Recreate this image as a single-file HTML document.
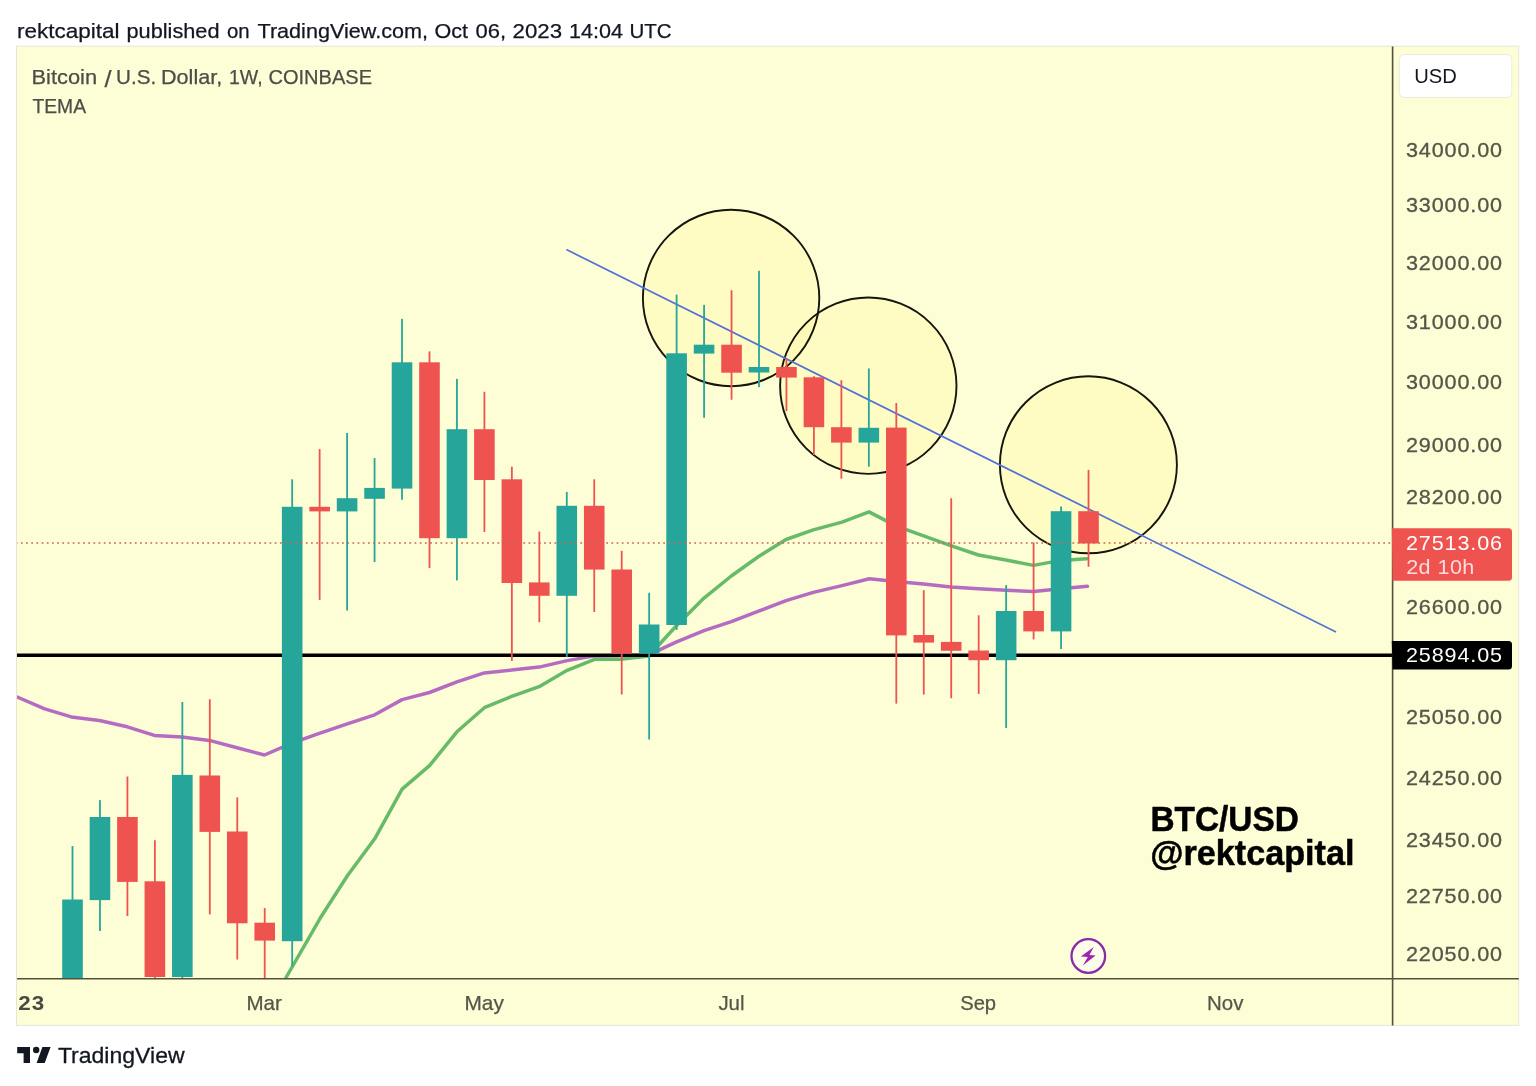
<!DOCTYPE html>
<html lang="en"><head><meta charset="utf-8"><title>BTC/USD chart</title>
<style>
html,body{margin:0;padding:0;background:#fff;}
body{width:1536px;height:1086px;overflow:hidden;position:relative;font-family:"Liberation Sans",sans-serif;}
svg{position:absolute;left:0;top:0;display:block;}
svg text{font-family:"Liberation Sans",sans-serif;white-space:pre;}
</style></head><body>
<svg width="1536" height="1086" viewBox="0 0 1536 1086">
<defs><clipPath id="pane"><rect x="17" y="46.5" width="1375.6" height="932"/></clipPath></defs>

<g id="title"><text x="17.00" y="38.1" font-size="20.3" fill="#131722" stroke="#131722" stroke-width="0.25" textLength="102.58" lengthAdjust="spacingAndGlyphs">rektcapital</text><text x="126.50" y="38.1" font-size="20.3" fill="#131722" stroke="#131722" stroke-width="0.25" textLength="93.06" lengthAdjust="spacingAndGlyphs">published</text><text x="227.00" y="38.1" font-size="20.3" fill="#131722" stroke="#131722" stroke-width="0.25" textLength="22.64" lengthAdjust="spacingAndGlyphs">on</text><text x="257.50" y="38.1" font-size="20.3" fill="#131722" stroke="#131722" stroke-width="0.25" textLength="170.52" lengthAdjust="spacingAndGlyphs">TradingView.com,</text><text x="434.50" y="38.1" font-size="20.3" fill="#131722" stroke="#131722" stroke-width="0.25" textLength="33.54" lengthAdjust="spacingAndGlyphs">Oct</text><text x="475.50" y="38.1" font-size="20.3" fill="#131722" stroke="#131722" stroke-width="0.25" textLength="30.63" lengthAdjust="spacingAndGlyphs">06,</text><text x="512.50" y="38.1" font-size="20.3" fill="#131722" stroke="#131722" stroke-width="0.25" textLength="49.54" lengthAdjust="spacingAndGlyphs">2023</text><text x="569.00" y="38.1" font-size="20.3" fill="#131722" stroke="#131722" stroke-width="0.25" textLength="54.06" lengthAdjust="spacingAndGlyphs">14:04</text><text x="629.50" y="38.1" font-size="20.3" fill="#131722" stroke="#131722" stroke-width="0.25" textLength="42.12" lengthAdjust="spacingAndGlyphs">UTC</text></g>
<rect x="16.5" y="46.2" width="1502.2" height="979.2" fill="#fefed6" stroke="#e6e6d8" stroke-width="1"/>
<g clip-path="url(#pane)">
<circle cx="731.1" cy="298" r="88.2" fill="#fff59d" fill-opacity="0.34"/>
<circle cx="868.3" cy="385.7" r="88.2" fill="#fff59d" fill-opacity="0.34"/>
<circle cx="1088.4" cy="464.8" r="88.5" fill="#fff59d" fill-opacity="0.34"/>
<circle cx="731.1" cy="298" r="88.2" fill="none" stroke="#15150c" stroke-width="1.9"/>
<circle cx="868.3" cy="385.7" r="88.2" fill="none" stroke="#15150c" stroke-width="1.9"/>
<circle cx="1088.4" cy="464.8" r="88.5" fill="none" stroke="#15150c" stroke-width="1.9"/>
<polyline points="285.8,978 320.4,917.8 347.4,875.8 374.7,838.8 402.1,789.2 429.5,765.7 456.9,731.8 484.3,707.7 511.7,696.4 539.1,686.7 567.2,670.3 594.6,659.3 620.6,659.3 648.75,656 676.6,625.5 704,598.1 731.3,576 758.6,556.5 786,539.5 813.3,529.9 842,522.1 869,511.9 895.9,525.9 923.6,535.9 950.8,545.6 978.5,555 1005.8,560 1033.4,565.4 1060.7,560.4 1086.8,558.7" fill="none" stroke="#66bb6a" stroke-width="3.5" stroke-linejoin="round" stroke-linecap="round"/>
<polyline points="17.2,697 44.7,708.9 71.3,716.9 99.4,720.5 127.3,726.8 154.4,735.4 181.9,737.1 209.4,740.4 237,747.7 264.5,755 291.9,743.1 319.3,733.4 347.3,723.8 374.7,714.8 402.1,699.6 429.5,692.5 456.9,681.9 484.3,672.9 511.7,670 539.1,667.1 567.2,660.6 594.6,655.9 620.6,655.4 648.75,654.9 676.6,641.9 704,630.7 731.3,621.6 758.6,611.1 786,600.7 813.3,592.4 842,585.6 869.3,578.7 895.9,581.5 923.6,584.1 950.8,586.9 978.5,588.7 1005.8,590.2 1033.4,591.6 1060.7,588.7 1087.4,586.3" fill="none" stroke="#b56bc2" stroke-width="3.5" stroke-linejoin="round" stroke-linecap="round"/>
<line x1="17" y1="655.3" x2="1392.6" y2="655.3" stroke="#000" stroke-width="3.6"/>
<line x1="566.4" y1="249.6" x2="1336" y2="631.9" stroke="#5172d8" stroke-width="1.7"/>
<rect x="71.60" y="846.1" width="1.8" height="153.9" fill="#26a69a"/>
<rect x="62.20" y="899.5" width="20.6" height="100.5" fill="#26a69a"/>
<rect x="99.06" y="800.1" width="1.8" height="130.9" fill="#26a69a"/>
<rect x="89.66" y="817" width="20.6" height="83.1" fill="#26a69a"/>
<rect x="126.52" y="776.5" width="1.8" height="139.5" fill="#ef5350"/>
<rect x="117.12" y="817" width="20.6" height="64.9" fill="#ef5350"/>
<rect x="153.98" y="840.2" width="1.8" height="159.8" fill="#ef5350"/>
<rect x="144.58" y="881.3" width="20.6" height="95.7" fill="#ef5350"/>
<rect x="181.44" y="702" width="1.8" height="298.0" fill="#26a69a"/>
<rect x="172.04" y="774.9" width="20.6" height="202.1" fill="#26a69a"/>
<rect x="208.90" y="699.3" width="1.8" height="215.1" fill="#ef5350"/>
<rect x="199.50" y="775.5" width="20.6" height="56.4" fill="#ef5350"/>
<rect x="236.36" y="797.4" width="1.8" height="162.1" fill="#ef5350"/>
<rect x="226.96" y="831.5" width="20.6" height="91.8" fill="#ef5350"/>
<rect x="263.82" y="908.1" width="1.8" height="91.9" fill="#ef5350"/>
<rect x="254.42" y="922.7" width="20.6" height="17.9" fill="#ef5350"/>
<rect x="291.28" y="479.3" width="1.8" height="487.1" fill="#26a69a"/>
<rect x="281.88" y="506.8" width="20.6" height="434.4" fill="#26a69a"/>
<rect x="318.74" y="449.1" width="1.8" height="150.8" fill="#ef5350"/>
<rect x="309.34" y="506.8" width="20.6" height="4.6" fill="#ef5350"/>
<rect x="346.20" y="432.9" width="1.8" height="177.6" fill="#26a69a"/>
<rect x="336.80" y="498.2" width="20.6" height="13.2" fill="#26a69a"/>
<rect x="373.66" y="458.1" width="1.8" height="104.0" fill="#26a69a"/>
<rect x="364.26" y="487.9" width="20.6" height="10.9" fill="#26a69a"/>
<rect x="401.12" y="318.9" width="1.8" height="180.9" fill="#26a69a"/>
<rect x="391.72" y="362.3" width="20.6" height="126.3" fill="#26a69a"/>
<rect x="428.58" y="351.4" width="1.8" height="216.7" fill="#ef5350"/>
<rect x="419.18" y="362.3" width="20.6" height="175.9" fill="#ef5350"/>
<rect x="456.04" y="378.9" width="1.8" height="201.5" fill="#26a69a"/>
<rect x="446.64" y="429.2" width="20.6" height="109.0" fill="#26a69a"/>
<rect x="483.50" y="391.8" width="1.8" height="140.2" fill="#ef5350"/>
<rect x="474.10" y="429.2" width="20.6" height="50.8" fill="#ef5350"/>
<rect x="510.96" y="466.7" width="1.8" height="194.2" fill="#ef5350"/>
<rect x="501.56" y="479.3" width="20.6" height="103.7" fill="#ef5350"/>
<rect x="538.42" y="531.6" width="1.8" height="90.6" fill="#ef5350"/>
<rect x="529.02" y="582.4" width="20.6" height="13.4" fill="#ef5350"/>
<rect x="565.88" y="491.9" width="1.8" height="165.3" fill="#26a69a"/>
<rect x="556.48" y="505.8" width="20.6" height="90.0" fill="#26a69a"/>
<rect x="593.34" y="479.3" width="1.8" height="132.7" fill="#ef5350"/>
<rect x="583.94" y="505.8" width="20.6" height="63.8" fill="#ef5350"/>
<rect x="620.80" y="550.8" width="1.8" height="143.7" fill="#ef5350"/>
<rect x="611.40" y="569.5" width="20.6" height="84.1" fill="#ef5350"/>
<rect x="648.26" y="592.8" width="1.8" height="146.7" fill="#26a69a"/>
<rect x="638.86" y="624.5" width="20.6" height="29.1" fill="#26a69a"/>
<rect x="675.72" y="294.6" width="1.8" height="335.3" fill="#26a69a"/>
<rect x="666.32" y="353.3" width="20.6" height="271.7" fill="#26a69a"/>
<rect x="703.18" y="304.9" width="1.8" height="112.9" fill="#26a69a"/>
<rect x="693.78" y="344.7" width="20.6" height="8.9" fill="#26a69a"/>
<rect x="730.64" y="290.3" width="1.8" height="109.4" fill="#ef5350"/>
<rect x="721.24" y="344.7" width="20.6" height="28.0" fill="#ef5350"/>
<rect x="758.10" y="270.8" width="1.8" height="116.3" fill="#26a69a"/>
<rect x="748.70" y="367" width="20.6" height="5.5" fill="#26a69a"/>
<rect x="785.56" y="359" width="1.8" height="52.1" fill="#ef5350"/>
<rect x="776.16" y="367" width="20.6" height="10.6" fill="#ef5350"/>
<rect x="813.02" y="376.2" width="1.8" height="78.8" fill="#ef5350"/>
<rect x="803.62" y="377.3" width="20.6" height="49.9" fill="#ef5350"/>
<rect x="840.48" y="380.2" width="1.8" height="98.5" fill="#ef5350"/>
<rect x="831.08" y="427.2" width="20.6" height="15.4" fill="#ef5350"/>
<rect x="867.94" y="368.5" width="1.8" height="98.2" fill="#26a69a"/>
<rect x="858.54" y="427.8" width="20.6" height="14.8" fill="#26a69a"/>
<rect x="895.40" y="403" width="1.8" height="300.6" fill="#ef5350"/>
<rect x="886.00" y="427.6" width="20.6" height="207.8" fill="#ef5350"/>
<rect x="922.86" y="590.2" width="1.8" height="104.4" fill="#ef5350"/>
<rect x="913.46" y="635" width="20.6" height="7.6" fill="#ef5350"/>
<rect x="950.32" y="498.2" width="1.8" height="200.0" fill="#ef5350"/>
<rect x="940.92" y="641.9" width="20.6" height="8.9" fill="#ef5350"/>
<rect x="977.78" y="615.3" width="1.8" height="78.6" fill="#ef5350"/>
<rect x="968.38" y="650.5" width="20.6" height="9.7" fill="#ef5350"/>
<rect x="1005.24" y="585.1" width="1.8" height="142.9" fill="#26a69a"/>
<rect x="995.84" y="611" width="20.6" height="49.2" fill="#26a69a"/>
<rect x="1032.70" y="542.4" width="1.8" height="97.0" fill="#ef5350"/>
<rect x="1023.30" y="611" width="20.6" height="20.4" fill="#ef5350"/>
<rect x="1060.16" y="506.5" width="1.8" height="142.5" fill="#26a69a"/>
<rect x="1050.76" y="511.2" width="20.6" height="120.2" fill="#26a69a"/>
<rect x="1087.62" y="469.9" width="1.8" height="96.9" fill="#ef5350"/>
<rect x="1078.22" y="511.2" width="20.6" height="32.3" fill="#ef5350"/>
<line x1="1390.2" y1="543" x2="17" y2="543" stroke="#c46a56" stroke-width="1.7" stroke-dasharray="1.8 3.38"/>
</g>
<g id="legend"><text x="31.50" y="84.3" font-size="20.9" fill="#4c4c48" stroke="#4c4c48" stroke-width="0.25" textLength="65.56" lengthAdjust="spacingAndGlyphs">Bitcoin</text><text x="116.00" y="84.3" font-size="20.9" fill="#4c4c48" stroke="#4c4c48" stroke-width="0.25" textLength="40.19" lengthAdjust="spacingAndGlyphs">U.S.</text><text x="161.00" y="84.3" font-size="20.9" fill="#4c4c48" stroke="#4c4c48" stroke-width="0.25" textLength="61.19" lengthAdjust="spacingAndGlyphs">Dollar,</text><text x="229.00" y="84.3" font-size="20.9" fill="#4c4c48" stroke="#4c4c48" stroke-width="0.25" textLength="33.69" lengthAdjust="spacingAndGlyphs">1W,</text><text x="268.50" y="84.3" font-size="20.9" fill="#4c4c48" stroke="#4c4c48" stroke-width="0.25" textLength="103.52" lengthAdjust="spacingAndGlyphs">COINBASE</text><text x="104.50" y="87.0" font-size="24.5" fill="#4c4c48" stroke="#4c4c48" stroke-width="0.25" textLength="7.05" lengthAdjust="spacingAndGlyphs">/</text><text x="32.50" y="113.3" font-size="20.6" fill="#4c4c48" stroke="#4c4c48" stroke-width="0.25" textLength="53.51" lengthAdjust="spacingAndGlyphs">TEMA</text></g>
<text x="1150.4" y="830.6" font-size="35" fill="#000" font-weight="bold" textLength="148.4" lengthAdjust="spacingAndGlyphs" stroke="#000" stroke-width="0.5">BTC/USD</text>
<text x="1150.2" y="865.1" font-size="35" fill="#000" font-weight="bold" textLength="204.2" lengthAdjust="spacingAndGlyphs" stroke="#000" stroke-width="0.5">@rektcapital</text>
<circle cx="1088.3" cy="956" r="16.8" fill="#fdfce8" stroke="#8a2aaa" stroke-width="2.3"/>
<polygon points="1093.8,946.9 1080.8,956.5 1087.8,956.9 1082.8,965.4 1095.6,955.4 1089.4,955.1" fill="#9c27b0"/>
<line x1="17" y1="978.8" x2="1518.8" y2="978.8" stroke="#52523c" stroke-width="1.6"/>
<line x1="1392.6" y1="46.5" x2="1392.6" y2="1025.5" stroke="#52523c" stroke-width="1.6"/>
<rect x="1399.3" y="54.5" width="112.5" height="43" rx="5" fill="#fff" stroke="#ecebd9" stroke-width="1"/>
<text x="1414.2" y="82.6" font-size="20.7" fill="#131722" font-weight="normal" textLength="42.6" lengthAdjust="spacingAndGlyphs">USD</text>
<text transform="translate(1406.0,157.4) scale(1.08,1)" font-size="20" fill="#55554a" font-weight="normal" textLength="88.9" lengthAdjust="spacing" stroke="#55554a" stroke-width="0.3">34000.00</text>
<text transform="translate(1406.0,212.1) scale(1.08,1)" font-size="20" fill="#55554a" font-weight="normal" textLength="88.9" lengthAdjust="spacing" stroke="#55554a" stroke-width="0.3">33000.00</text>
<text transform="translate(1406.0,269.6) scale(1.08,1)" font-size="20" fill="#55554a" font-weight="normal" textLength="88.9" lengthAdjust="spacing" stroke="#55554a" stroke-width="0.3">32000.00</text>
<text transform="translate(1406.0,328.7) scale(1.08,1)" font-size="20" fill="#55554a" font-weight="normal" textLength="88.9" lengthAdjust="spacing" stroke="#55554a" stroke-width="0.3">31000.00</text>
<text transform="translate(1406.0,389.2) scale(1.08,1)" font-size="20" fill="#55554a" font-weight="normal" textLength="88.9" lengthAdjust="spacing" stroke="#55554a" stroke-width="0.3">30000.00</text>
<text transform="translate(1406.0,452.2) scale(1.08,1)" font-size="20" fill="#55554a" font-weight="normal" textLength="88.9" lengthAdjust="spacing" stroke="#55554a" stroke-width="0.3">29000.00</text>
<text transform="translate(1406.0,504.4) scale(1.08,1)" font-size="20" fill="#55554a" font-weight="normal" textLength="88.9" lengthAdjust="spacing" stroke="#55554a" stroke-width="0.3">28200.00</text>
<text transform="translate(1406.0,613.5) scale(1.08,1)" font-size="20" fill="#55554a" font-weight="normal" textLength="88.9" lengthAdjust="spacing" stroke="#55554a" stroke-width="0.3">26600.00</text>
<text transform="translate(1406.0,724.1) scale(1.08,1)" font-size="20" fill="#55554a" font-weight="normal" textLength="88.9" lengthAdjust="spacing" stroke="#55554a" stroke-width="0.3">25050.00</text>
<text transform="translate(1406.0,785.4) scale(1.08,1)" font-size="20" fill="#55554a" font-weight="normal" textLength="88.9" lengthAdjust="spacing" stroke="#55554a" stroke-width="0.3">24250.00</text>
<text transform="translate(1406.0,846.5) scale(1.08,1)" font-size="20" fill="#55554a" font-weight="normal" textLength="88.9" lengthAdjust="spacing" stroke="#55554a" stroke-width="0.3">23450.00</text>
<text transform="translate(1406.0,903.3) scale(1.08,1)" font-size="20" fill="#55554a" font-weight="normal" textLength="88.9" lengthAdjust="spacing" stroke="#55554a" stroke-width="0.3">22750.00</text>
<text transform="translate(1406.0,961.2) scale(1.08,1)" font-size="20" fill="#55554a" font-weight="normal" textLength="88.9" lengthAdjust="spacing" stroke="#55554a" stroke-width="0.3">22050.00</text>
<path d="M1391.8 528.3H1508.5a3.5 3.5 0 0 1 3.5 3.5V577.3a3.5 3.5 0 0 1 -3.5 3.5H1392.6Z" fill="#ef5350"/>
<text transform="translate(1406.0,550.1) scale(1.08,1)" font-size="20" fill="#fff" font-weight="normal" textLength="88.9" lengthAdjust="spacing">27513.06</text>
<text transform="translate(1406.2,573.7) scale(1.08,1)" font-size="20" fill="#fff" font-weight="normal" textLength="63.1" lengthAdjust="spacing" fill-opacity="0.8">2d 10h</text>
<path d="M1391.8 640.9H1508.5a3.5 3.5 0 0 1 3.5 3.5V666.1a3.5 3.5 0 0 1 -3.5 3.5H1392.6Z" fill="#000"/>
<text transform="translate(1406.0,662.2) scale(1.08,1)" font-size="20" fill="#fff" font-weight="normal" textLength="88.9" lengthAdjust="spacing">25894.05</text>
<text transform="translate(18.2,1009.8) scale(1.12,1)" font-size="20" fill="#4a4a42" font-weight="bold" textLength="23.3" lengthAdjust="spacing">23</text>
<text x="246.4" y="1009.9" font-size="20.6" fill="#55554a" font-weight="normal" textLength="35.4" lengthAdjust="spacingAndGlyphs" stroke="#55554a" stroke-width="0.25">Mar</text>
<text x="464.5" y="1009.9" font-size="20.6" fill="#55554a" font-weight="normal" textLength="39.4" lengthAdjust="spacingAndGlyphs" stroke="#55554a" stroke-width="0.25">May</text>
<text x="718.4" y="1009.9" font-size="20.6" fill="#55554a" font-weight="normal" textLength="26.1" lengthAdjust="spacingAndGlyphs" stroke="#55554a" stroke-width="0.25">Jul</text>
<text x="960.2" y="1009.9" font-size="20.6" fill="#55554a" font-weight="normal" textLength="35.9" lengthAdjust="spacingAndGlyphs" stroke="#55554a" stroke-width="0.25">Sep</text>
<text x="1207" y="1009.9" font-size="20.6" fill="#55554a" font-weight="normal" textLength="36.4" lengthAdjust="spacingAndGlyphs" stroke="#55554a" stroke-width="0.25">Nov</text>
<g fill="#131722"><path d="M17.2 1046.9H30V1063H23.6V1053.3H17.2Z"/><circle cx="36.2" cy="1050" r="3.2"/><path d="M42.4 1046.9H50.6L44.7 1063H36.6Z"/></g>
<text x="57.9" y="1063.3" font-size="22.4" fill="#131722" font-weight="normal" textLength="126.7" lengthAdjust="spacingAndGlyphs" stroke="#131722" stroke-width="0.3">TradingView</text>
</svg></body></html>
